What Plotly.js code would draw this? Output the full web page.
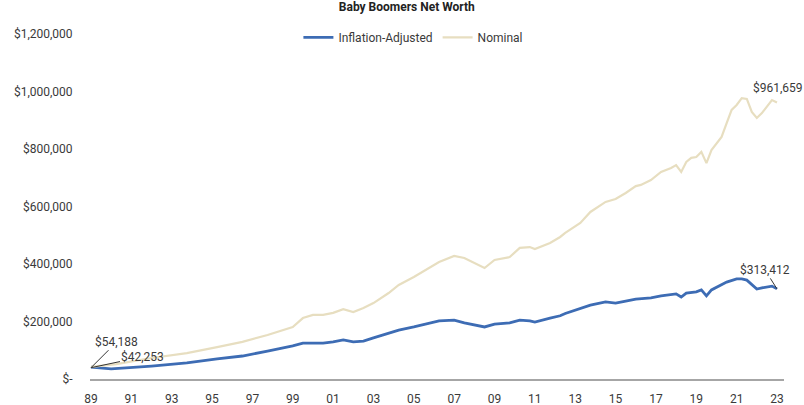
<!DOCTYPE html>
<html>
<head>
<meta charset="utf-8">
<script src="https://cdn.plot.ly/plotly-3.0.1.min.js"></script>
<style>html,body{margin:0;padding:0;background:#fff}#chart{width:804px;height:405px}</style>
</head>
<body>
<div id="chart"></div>
<script>
const nominalDates = ["1989-07-01","1990-10-01","1992-07-01","1994-04-01","1995-10-01","1997-01-01","1998-04-01","1999-07-01","2000-01-01","2000-07-01","2001-01-01","2001-07-01","2002-01-01","2002-07-01","2003-01-01","2003-07-01","2004-04-01","2004-10-01","2005-07-01","2006-04-01","2006-10-01","2007-07-01","2008-01-01","2009-01-01","2009-07-01","2010-04-01","2010-10-01","2011-04-01","2011-07-01","2012-04-01","2012-10-01","2013-01-01","2013-10-01","2014-04-01","2015-01-01","2015-07-01","2016-01-01","2016-07-01","2016-10-01","2017-04-01","2017-10-01","2018-04-01","2018-07-01","2018-10-01","2019-01-01","2019-04-01","2019-07-01","2019-10-01","2020-01-01","2020-04-01","2020-10-01","2021-01-01","2021-04-01","2021-07-01","2021-10-01","2022-01-01","2022-04-01","2022-07-01","2022-10-01","2023-04-01","2023-07-01"];
const nominalValues = [42253,52000,73000,90000,111000,129000,153000,181000,212000,223000,223000,230000,243000,233000,247000,264000,299000,327000,355000,386000,407000,428000,421000,386000,414000,424000,456000,459000,452000,473000,494000,508000,543000,581000,616000,626000,647000,671000,675000,692000,720000,734000,744000,720000,755000,769000,772000,790000,751000,796000,842000,890000,936000,953000,977000,974000,929000,908000,925000,970000,961659];

// Inflation-adjusted series
const adjustedDates = ["1989-07-01","1990-07-01","1992-07-01","1994-04-01","1995-10-01","1997-01-01","1998-04-01","1999-07-01","2000-01-01","2001-01-01","2001-07-01","2002-01-01","2002-07-01","2003-01-01","2003-07-01","2004-04-01","2004-10-01","2005-07-01","2006-04-01","2006-10-01","2007-07-01","2008-01-01","2009-01-01","2009-07-01","2010-04-01","2010-10-01","2011-04-01","2011-07-01","2012-04-01","2012-10-01","2013-01-01","2013-10-01","2014-04-01","2015-01-01","2015-07-01","2016-01-01","2016-07-01","2017-04-01","2017-10-01","2018-07-01","2018-10-01","2019-01-01","2019-07-01","2019-10-01","2020-01-01","2020-04-01","2020-10-01","2021-01-01","2021-07-01","2021-10-01","2022-01-01","2022-04-01","2022-07-01","2022-10-01","2023-04-01","2023-07-01"];
const adjustedValues = [41000,35000,45000,56000,70000,80000,97000,115000,125000,125000,129000,136000,129000,132000,143000,160000,170000,181000,195000,202000,205000,195000,181000,191000,195000,205000,202000,198000,212000,220000,228000,247000,257000,268000,264000,271000,278000,282000,289000,296000,285000,299000,303000,310000,289000,310000,327000,337000,348000,348000,344000,327000,313000,317000,323000,313412];

// Axis ticks
const xTickDates = ["1989-07-01","1991-07-01","1993-07-01","1995-07-01","1997-07-01","1999-07-01","2001-07-01","2003-07-01","2005-07-01","2007-07-01","2009-07-01","2011-07-01","2013-07-01","2015-07-01","2017-07-01","2019-07-01","2021-07-01","2023-07-01"];
const xTickLabels = ["89","91","93","95","97","99","01","03","05","07","09","11","13","15","17","19","21","23"];
const yTickValues = [0,200000,400000,600000,800000,1000000,1200000];
const yTickLabels = ["$-","$200,000","$400,000","$600,000","$800,000","$1,000,000","$1,200,000"];

// Callout labels
const startLabelA = "$54,188";
const startLabelB = "$42,253";
const endLabelAdjusted = "$313,412";
const endLabelNominal = "$961,659";

const FONT = "Roboto, 'Liberation Sans', sans-serif";
const TXT = "#3a3a3a";

const traces = [
  {x: adjustedDates, y: adjustedValues, type: "scatter", mode: "lines", name: "Inflation-Adjusted",
   line: {color: "#3d6cb4", width: 2.8}},
  {x: nominalDates, y: nominalValues, type: "scatter", mode: "lines", name: "Nominal",
   line: {color: "#e7dec0", width: 2.2}}
];

const lastN = nominalDates.length - 1;
const lastA = adjustedDates.length - 1;

const layout = {
  width: 804, height: 405,
  paper_bgcolor: "#fff", plot_bgcolor: "#fff",
  margin: {l: 90, r: 20, t: 34, b: 26},
  font: {family: FONT, size: 12, color: TXT},
  title: {text: "<b>Baby Boomers Net Worth</b>", x: 0.506, xanchor: "center", y: 0.982, yanchor: "middle",
          font: {family: FONT, size: 12, color: "#222"}},
  showlegend: true,
  legend: {orientation: "h", x: 0.466, xanchor: "center", y: 0.99, yanchor: "middle",
           font: {family: FONT, size: 12, color: TXT}, itemwidth: 30, tracegroupgap: 0, bgcolor: "rgba(0,0,0,0)"},
  xaxis: {type: "date", range: ["1989-06-13", "2023-11-05"], tickmode: "array", tickvals: xTickDates, ticktext: xTickLabels,
          showgrid: false, zeroline: false, showline: true, linecolor: "#a6a6a6", linewidth: 2,
          ticks: "outside", ticklen: 8, tickcolor: "rgba(0,0,0,0)", tickfont: {family: FONT, size: 12, color: TXT}},
  yaxis: {range: [0, 1200000], tickmode: "array", tickvals: yTickValues, ticktext: yTickLabels,
          showgrid: false, zeroline: false, showline: false,
          ticks: "outside", ticklen: 14, tickcolor: "rgba(0,0,0,0)", tickfont: {family: FONT, size: 12, color: TXT}},
  annotations: [
    {x: nominalDates[0], y: nominalValues[0] - 3000, xref: "x", yref: "y", text: startLabelA, showarrow: true,
     arrowhead: 0, arrowwidth: 1, arrowcolor: "#333", ax: 26, ay: -26, font: {family: FONT, size: 12, color: TXT}},
    {x: nominalDates[0], y: nominalValues[0] - 3000, xref: "x", yref: "y", text: startLabelB, showarrow: true,
     arrowhead: 0, arrowwidth: 1, arrowcolor: "#333", ax: 52, ay: -11, font: {family: FONT, size: 12, color: TXT}},
    {x: adjustedDates[lastA], y: adjustedValues[lastA], xref: "x", yref: "y", text: endLabelAdjusted, showarrow: true,
     arrowhead: 0, arrowwidth: 1, arrowcolor: "#333", ax: -12, ay: -19, font: {family: FONT, size: 12, color: TXT}},
    {x: nominalDates[lastN], y: nominalValues[lastN], xref: "x", yref: "y", text: endLabelNominal, showarrow: false,
     yshift: 15, xshift: 1, font: {family: FONT, size: 12, color: TXT}}
  ]
};

Plotly.newPlot("chart", traces, layout, {displayModeBar: false, staticPlot: true});
</script>
</body>
</html>
